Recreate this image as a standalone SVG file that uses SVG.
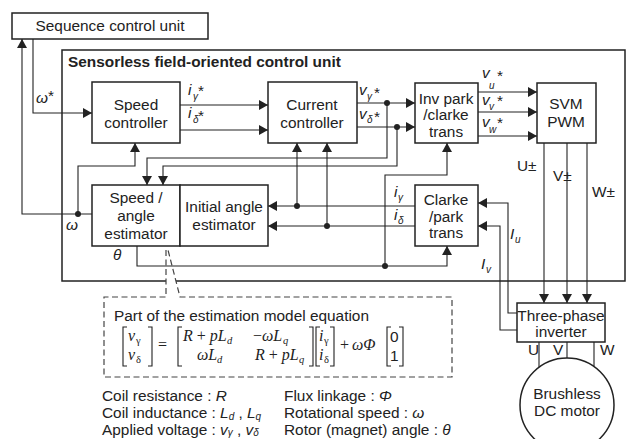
<svg xmlns="http://www.w3.org/2000/svg" width="632" height="439" viewBox="0 0 632 439">
<style>
text{font-family:"Liberation Sans",Arial,sans-serif;font-size:15.4px;fill:#222}
.c{text-anchor:middle}
.b{font-weight:bold}
.i{font-style:italic}
.s{font-style:italic;font-size:10px}
.box{fill:#fff;stroke:#222;stroke-width:1.5}
.ln{fill:none;stroke:#222;stroke-width:1.1}
.la{fill:none;stroke:#222;stroke-width:1.1;marker-end:url(#arr)}
.dot{fill:#222}
.m{font-family:"Liberation Serif","Times New Roman",serif;font-size:16px;font-style:italic}
.mu{font-family:"Liberation Serif","Times New Roman",serif;font-size:16px}
.ms{font-family:"Liberation Serif","Times New Roman",serif;font-size:10.5px}
.msi{font-family:"Liberation Serif","Times New Roman",serif;font-size:10.5px;font-style:italic}
.br{fill:none;stroke:#222;stroke-width:1.1}
.dash{fill:none;stroke:#444;stroke-width:1.2;stroke-dasharray:6 3.5}
</style>
<defs>
<marker id="arr" markerUnits="userSpaceOnUse" markerWidth="10" markerHeight="10" refX="9" refY="5" orient="auto">
<path d="M0,0 L9,5 L0,10 z" fill="#222"/>
</marker>
</defs>
<rect width="632" height="439" fill="#fff"/>

<g id="outer-unit">
<rect x="62" y="50" width="563" height="231" fill="none" stroke="#222" stroke-width="1.5"/>
<text class="b" x="68" y="67">Sensorless field-oriented control unit</text>
</g>

<g id="sequence-control-unit">
<rect class="box" x="12" y="13" width="196" height="26"/>
<text class="c" x="110" y="31">Sequence control unit</text>
</g>

<g id="speed-controller">
<rect class="box" x="92" y="82" width="88" height="61"/>
<text class="c" x="136" y="110">Speed</text>
<text class="c" x="136" y="128">controller</text>
</g>

<g id="current-controller">
<rect class="box" x="268" y="82" width="89" height="61"/>
<text class="c" x="312" y="110">Current</text>
<text class="c" x="312" y="128">controller</text>
</g>

<g id="inv-park-clarke">
<rect class="box" x="415" y="83" width="63" height="60"/>
<text class="c" x="446" y="104">Inv park</text>
<text class="c" x="446" y="120">/clarke</text>
<text class="c" x="446" y="137">trans</text>
</g>

<g id="svm-pwm">
<rect class="box" x="537" y="83" width="59" height="60"/>
<text class="c" x="566" y="109">SVM</text>
<text class="c" x="566" y="127">PWM</text>
</g>

<g id="clarke-park">
<rect class="box" x="415" y="185" width="63" height="61"/>
<text class="c" x="446" y="205">Clarke</text>
<text class="c" x="446" y="222">/park</text>
<text class="c" x="446" y="238">trans</text>
</g>

<g id="speed-angle-estimator">
<rect class="box" x="92" y="185" width="88" height="61"/>
<text class="c" x="136" y="203">Speed /</text>
<text class="c" x="136" y="221">angle</text>
<text class="c" x="136" y="239">estimator</text>
</g>

<g id="initial-angle-estimator">
<rect class="box" x="180" y="185" width="88" height="61"/>
<text class="c" x="224" y="212">Initial angle</text>
<text class="c" x="224" y="230">estimator</text>
</g>

<g id="three-phase-inverter">
<rect class="box" x="517" y="303" width="88" height="39"/>
<text class="c" x="561" y="321">Three-phase</text>
<text class="c" x="561" y="337">inverter</text>
</g>

<g id="bldc-motor">
<circle cx="567" cy="405" r="47" fill="#fff" stroke="#222" stroke-width="1.5"/>
<text class="c" x="567" y="399">Brushless</text>
<text class="c" x="567" y="416">DC motor</text>
</g>

<g id="connectors">
<path class="la" d="M33,39 V113 H92"/>
<path class="la" d="M92,214 H22 V39"/>
<path class="la" d="M78,214 V166 H135 V143"/>
<circle class="dot" cx="78" cy="214" r="3"/>
<path class="la" d="M180,105 H268"/>
<path class="la" d="M180,130 H268"/>
<path class="la" d="M357,103 H415"/>
<path class="la" d="M357,127 H415"/>
<path class="la" d="M387,103 V158 H147 V185"/>
<path class="la" d="M397,127 V166 H163 V185"/>
<circle class="dot" cx="387" cy="103" r="3"/>
<circle class="dot" cx="397" cy="127" r="3"/>
<path class="la" d="M478,92 H537"/>
<path class="la" d="M478,112 H537"/>
<path class="la" d="M478,136 H537"/>
<path class="la" d="M544,143 V303"/>
<path class="la" d="M567,143 V303"/>
<path class="la" d="M587,143 V303"/>
<path class="la" d="M415,206 H268"/>
<path class="la" d="M415,226 H268"/>
<path class="la" d="M297,206 V143"/>
<path class="la" d="M327,226 V143"/>
<circle class="dot" cx="297" cy="206" r="3"/>
<circle class="dot" cx="327" cy="226" r="3"/>
<path class="la" d="M517,313 H508 V203 H478"/>
<path class="la" d="M517,330 H500 V226 H478"/>
<path class="ln" d="M539,342 V367 M567,342 V358 M594,342 V366"/>
</g>

<g id="callout">
<polygon points="166,250 166,297 180,297 168,250" fill="#fff"/>
</g>

<g id="theta-connectors">
<path class="la" d="M137,246 V266 H447 V246"/>
<path class="la" d="M385,266 V175 H447 V143"/>
<circle class="dot" cx="385" cy="266" r="3"/>
</g>

<g id="signal-labels">
<text class="i" x="36" y="103">ω<tspan class="c" font-style="normal" dy="-2">*</tspan></text>
<text class="i" x="66" y="230">ω</text>
<text class="i" x="113" y="260">θ</text>
<text class="i" x="188" y="95">i</text><text class="s" x="193" y="100">γ</text><text x="198" y="96">*</text>
<text class="i" x="188" y="118">i</text><text class="s" x="193" y="123">δ</text><text x="198" y="121">*</text>
<text class="i" x="359" y="95">v</text><text class="s" x="367" y="100">γ</text><text x="374" y="98">*</text>
<text class="i" x="359" y="119">v</text><text class="s" x="367" y="123">δ</text><text x="374" y="122">*</text>
<text class="i" x="482" y="78">v</text><text class="s" x="489" y="89">u</text><text x="497" y="81">*</text>
<text class="i" x="482" y="105">v</text><text class="s" x="489" y="110">v</text><text x="497" y="106">*</text>
<text class="i" x="482" y="127">v</text><text class="s" x="489" y="133">w</text><text x="497" y="128">*</text>
<text class="i" x="394" y="197">i</text><text class="s" x="398" y="201">γ</text>
<text class="i" x="394" y="220">i</text><text class="s" x="398" y="224">δ</text>
<text class="i" x="510" y="239">I</text><text class="s" x="515" y="243">u</text>
<text class="i" x="481" y="269">I</text><text class="s" x="486" y="273">v</text>
<text x="517" y="171">U±</text>
<text x="553" y="181">V±</text>
<text x="592" y="197">W±</text>
<text x="528" y="355">U</text>
<text x="553" y="355">V</text>
<text x="600" y="355">W</text>
</g>

<g id="equation-box">
<path class="dash" d="M166,250 V297 H104 V377 H452 V297 H180 L168,250"/>
<text x="114" y="321">Part of the estimation model equation</text>
<path class="br" d="M127,327 H123 V366 H127 M148,327 H152 V366 H148"/>
<text class="m" x="128" y="341">v</text><text class="ms" x="136" y="344">γ</text>
<text class="m" x="128" y="360">v</text><text class="ms" x="136" y="363">δ</text>
<text class="mu" x="158" y="350">=</text>
<path class="br" d="M182,327 H178 V366 H182 M309,327 H313 V366 H309"/>
<text class="m" x="183" y="341">R <tspan font-style="normal">+</tspan> pL</text><text class="msi" x="227" y="344">d</text>
<text class="m" x="253" y="341"><tspan font-style="normal">−</tspan>ωL</text><text class="msi" x="283" y="344">q</text>
<text class="m" x="197" y="360">ωL</text><text class="msi" x="217" y="363">d</text>
<text class="m" x="255" y="360">R <tspan font-style="normal">+</tspan> pL</text><text class="msi" x="299" y="363">q</text>
<path class="br" d="M320,327 H316 V366 H320 M330,327 H334 V366 H330"/>
<text class="m" x="319" y="341">i</text><text class="ms" x="324" y="344">γ</text>
<text class="m" x="319" y="360">i</text><text class="ms" x="324" y="363">δ</text>
<text class="mu" x="340" y="350">+</text>
<text class="m" x="352" y="350">ωΦ</text>
<path class="br" d="M391,327 H387 V366 H391 M399,327 H403 V366 H399"/>
<text x="390" y="342">0</text>
<text x="390" y="361">1</text>
</g>

<g id="legend">
<text x="102" y="401">Coil resistance : <tspan class="i">R</tspan></text>
<text x="102" y="418">Coil inductance : <tspan class="i">L</tspan><tspan class="i" font-size="10px" dy="2">d</tspan><tspan dy="-2"> , </tspan><tspan class="i">L</tspan><tspan class="i" font-size="10px" dy="2">q</tspan></text>
<text x="102" y="435">Applied voltage : <tspan class="i">v</tspan><tspan class="i" font-size="10px" dy="1">γ</tspan><tspan dy="-1"> , </tspan><tspan class="i">v</tspan><tspan class="i" font-size="10px" dy="1">δ</tspan></text>
<text x="284" y="401">Flux linkage : <tspan class="i">Φ</tspan></text>
<text x="284" y="418">Rotational speed : <tspan class="i">ω</tspan></text>
<text x="284" y="435">Rotor (magnet) angle : <tspan class="i">θ</tspan></text>
</g>
</svg>
